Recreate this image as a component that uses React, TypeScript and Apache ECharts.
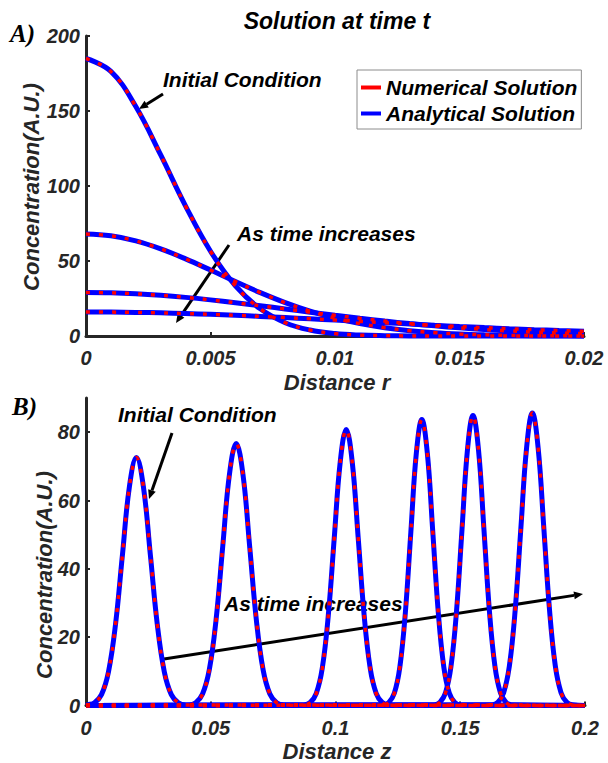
import React, { useEffect, useRef } from 'react';
import * as echarts from 'echarts';

// ---------- Panel A: radial profiles ----------
const rDistance = [0, 0.001, 0.002, 0.003, 0.004, 0.005, 0.006, 0.007, 0.008, 0.009, 0.01, 0.011, 0.012, 0.013, 0.014, 0.015, 0.016, 0.017, 0.018, 0.019, 0.02];
const cInitial = [185, 176.4, 153.0, 120.7, 86.6, 56.5, 33.5, 18.1, 8.87, 3.96, 1.61, 0.59, 0.2, 0.06, 0.02, 0, 0, 0, 0, 0, 0];
const cTime1 = [68, 66.82, 63.42, 58.11, 51.43, 43.96, 36.28, 28.91, 22.26, 16.54, 11.87, 8.23, 5.51, 3.56, 2.22, 1.34, 0.78, 0.44, 0.24, 0.13, 0.06];
const cTime2 = [29, 28.78, 28.15, 27.12, 25.75, 24.08, 22.19, 20.15, 18.03, 15.89, 13.8, 11.8, 9.95, 8.26, 6.76, 5.45, 4.33, 3.39, 2.61, 1.98, 1.48];
const cTime3 = [16, 15.93, 15.74, 15.42, 14.98, 14.44, 13.8, 13.08, 12.3, 11.47, 10.61, 9.73, 8.85, 7.99, 7.15, 6.35, 5.59, 4.88, 4.23, 3.63, 3.09];
const xTicksA = [0, 0.005, 0.01, 0.015, 0.02];
const yTicksA = [0, 50, 100, 150, 200];

// ---------- Panel B: travelling pulses ----------
const zPeak1 = [0, 0.0006, 0.0034, 0.0062, 0.009, 0.0118, 0.0146, 0.0174, 0.0202, 0.023, 0.0258, 0.0286, 0.0314, 0.0342, 0.037, 0.0398, 0.2];
const cPeak1 = [0, 0.16, 0.81, 3.19, 9.82, 23.57, 44.03, 64.07, 72.6, 64.07, 44.03, 23.57, 9.82, 3.19, 0.81, 0.16, 0];
const zPeak2 = [0, 0.0413, 0.044, 0.0467, 0.0494, 0.0521, 0.0548, 0.0575, 0.0602, 0.0629, 0.0656, 0.0683, 0.071, 0.0737, 0.0764, 0.0791, 0.2];
const cPeak2 = [0, 0.17, 0.85, 3.37, 10.38, 24.9, 46.52, 67.69, 76.7, 67.69, 46.52, 24.9, 10.38, 3.37, 0.85, 0.17, 0];
const zPeak3 = [0, 0.0875, 0.0899, 0.0923, 0.0947, 0.0971, 0.0995, 0.1019, 0.1043, 0.1067, 0.1091, 0.1115, 0.1139, 0.1163, 0.1187, 0.1211, 0.2];
const cPeak3 = [0, 0.18, 0.9, 3.55, 10.93, 26.24, 49.01, 71.31, 80.8, 71.31, 49.01, 26.24, 10.93, 3.55, 0.9, 0.18, 0];
const zPeak4 = [0, 0.1192, 0.1214, 0.1236, 0.1258, 0.128, 0.1302, 0.1324, 0.1346, 0.1368, 0.139, 0.1412, 0.1434, 0.1456, 0.1478, 0.15, 0.2];
const cPeak4 = [0, 0.18, 0.93, 3.67, 11.32, 27.18, 50.76, 73.87, 83.7, 73.87, 50.76, 27.18, 11.32, 3.67, 0.93, 0.18, 0];
const zPeak5 = [0, 0.1397, 0.1419, 0.1441, 0.1463, 0.1485, 0.1507, 0.1529, 0.1551, 0.1573, 0.1595, 0.1617, 0.1639, 0.1661, 0.1683, 0.1705, 0.2];
const cPeak5 = [0, 0.19, 0.94, 3.73, 11.49, 27.57, 51.49, 74.92, 84.9, 74.92, 51.49, 27.57, 11.49, 3.73, 0.94, 0.19, 0];
const zPeak6 = [0, 0.1628, 0.1651, 0.1674, 0.1697, 0.172, 0.1743, 0.1766, 0.1789, 0.1812, 0.1835, 0.1858, 0.1881, 0.1904, 0.1927, 0.195, 0.2];
const cPeak6 = [0, 0.19, 0.95, 3.76, 11.58, 27.79, 51.92, 75.54, 85.6, 75.54, 51.92, 27.79, 11.58, 3.76, 0.95, 0.19, 0];
const xTicksB = [0, 0.05, 0.1, 0.15, 0.2];
const yTicksB = [0, 20, 40, 60, 80];

const FAMILY = '"Liberation Sans", Arial, Helvetica, sans-serif';
const AX = '#262626';
const BLUE = '#0000ff';
const RED = '#ff0000';
const NUM = 'Numerical Solution';
const ANA = 'Analytical Solution';

const pairs = (xs: number[], ys: number[]) => xs.map((x, i) => [x, ys[i]]);

function curve(idx: number, name: string, data: number[][]) {
  const isNum = name === NUM;
  return {
    type: 'line',
    name,
    xAxisIndex: idx,
    yAxisIndex: idx,
    data,
    smooth: 0.4,
    symbol: 'none',
    showSymbol: false,
    clip: false,
    silent: true,
    z: isNum ? 3 : 2,
    itemStyle: { color: isNum ? RED : BLUE },
    lineStyle: isNum
      ? { color: RED, width: 3.5, type: [4, 9] }
      : { color: BLUE, width: 5 },
  };
}

function arrow(x1: number, y1: number, x2: number, y2: number, head = 9, half = 4) {
  const dx = x2 - x1;
  const dy = y2 - y1;
  const L = Math.hypot(dx, dy);
  const ux = dx / L;
  const uy = dy / L;
  const bx = x2 - ux * head;
  const by = y2 - uy * head;
  return [
    { type: 'line', shape: { x1, y1, x2: bx, y2: by }, style: { stroke: '#000', lineWidth: 3 } },
    {
      type: 'polygon',
      shape: { points: [[x2, y2], [bx - uy * half, by + ux * half], [bx + uy * half, by - ux * half]] },
      style: { fill: '#000' },
    },
  ];
}

function txt(x: number, y: number, text: string, size: number, opts: any = {}) {
  return {
    type: 'text',
    x,
    y,
    rotation: opts.rotation || 0,
    style: {
      text,
      fill: opts.fill || '#000',
      font: `italic bold ${size}px ${opts.family || FAMILY}`,
      align: opts.align || 'left',
      verticalAlign: 'middle',
    },
  };
}

function axisPair(grid: number, xmin: number, xmax: number, xt: number[], ymax: number, yt: number[]) {
  const labelStyle = { fontSize: 20, fontWeight: 'bold', fontStyle: 'italic', color: AX, fontFamily: FAMILY };
  return {
    x: {
      type: 'value', gridIndex: grid, min: xmin, max: xmax,
      axisLine: { show: true, onZero: false, lineStyle: { color: AX, width: 3 } },
      axisTick: { show: true, inside: true, length: 4, customValues: xt, lineStyle: { color: AX, width: 2 } },
      axisLabel: { ...labelStyle, margin: 12, customValues: xt, formatter: (v: number) => String(v) },
      splitLine: { show: false },
    },
    y: {
      type: 'value', gridIndex: grid, min: 0, max: ymax,
      axisLine: { show: true, onZero: false, lineStyle: { color: AX, width: 3 } },
      axisTick: { show: true, inside: true, length: 4, customValues: yt, lineStyle: { color: AX, width: 2 } },
      axisLabel: { ...labelStyle, margin: 6, customValues: yt, formatter: (v: number) => String(v) },
      splitLine: { show: false },
    },
  };
}

export default function App() {
  const ref = useRef<HTMLDivElement>(null);
  useEffect(() => {
    if (!ref.current) return;
    const chart = echarts.init(ref.current, null, { renderer: 'svg' });
    const a = axisPair(0, 0, 0.02, xTicksA, 200, yTicksA);
    const b = axisPair(1, 0, 0.2, xTicksB, 90, yTicksB);

    const topSets = [cInitial, cTime1, cTime2, cTime3];
    const bottomSets: [number[], number[]][] = [
      [zPeak1, cPeak1], [zPeak2, cPeak2], [zPeak3, cPeak3],
      [zPeak4, cPeak4], [zPeak5, cPeak5], [zPeak6, cPeak6],
    ];
    const series: any[] = [];
    topSets.forEach((c) => series.push(curve(0, ANA, pairs(rDistance, c))));
    bottomSets.forEach(([z, c]) => series.push(curve(1, ANA, pairs(z, c))));
    topSets.forEach((c) => series.push(curve(0, NUM, pairs(rDistance, c))));
    bottomSets.forEach(([z, c]) => series.push(curve(1, NUM, pairs(z, c))));

    const graphics: any[] = [
      txt(337, 21, 'Solution at time t', 23, { align: 'center' }),
      txt(10, 33, 'A)', 25, { family: '"Liberation Serif", "Times New Roman", serif' }),
      txt(12, 406, 'B)', 25, { family: '"Liberation Serif", "Times New Roman", serif' }),
      txt(31, 187, 'Concentration(A.U.)', 22, { align: 'center', rotation: Math.PI / 2, fill: AX }),
      txt(44, 575, 'Concentration(A.U.)', 22, { align: 'center', rotation: Math.PI / 2, fill: AX }),
      txt(337, 382, 'Distance r', 22, { align: 'center', fill: AX }),
      txt(337, 751, 'Distance z', 22, { align: 'center', fill: AX }),
      txt(163, 79, 'Initial Condition', 21),
      txt(237, 233, 'As time increases', 21),
      txt(118, 414, 'Initial Condition', 21),
      txt(224, 603, 'As time increases', 21),
      ...arrow(163, 94, 139, 109),
      ...arrow(229, 245, 176, 323),
      ...arrow(172, 433, 149, 499),
      ...arrow(164, 659, 583, 594),
    ];

    chart.setOption({
      animation: false,
      backgroundColor: '#ffffff',
      grid: [
        { left: 86, top: 36, width: 498, height: 300, containLabel: false },
        { left: 86, top: 398, width: 499, height: 307.5, containLabel: false },
      ],
      xAxis: [a.x, b.x],
      yAxis: [a.y, b.y],
      legend: {
        data: [NUM, ANA],
        orient: 'vertical',
        left: 357,
        top: 70,
        padding: [6, 4, 4, 4],
        itemGap: 3,
        itemWidth: 20,
        itemHeight: 4,
        itemTextGap: 3,
        icon: 'rect',
        borderColor: '#8c8c8c',
        borderWidth: 1,
        backgroundColor: '#ffffff',
        selectedMode: false,
        textStyle: { fontSize: 21, lineHeight: 23, fontWeight: 'bold', fontStyle: 'italic', color: '#000', fontFamily: FAMILY },
      },
      series,
      graphic: graphics,
    });
    return () => chart.dispose();
  }, []);
  return <div ref={ref} style={{ position: 'absolute', left: 0, top: 0, width: 608, height: 763, background: '#fff' }} />;
}
